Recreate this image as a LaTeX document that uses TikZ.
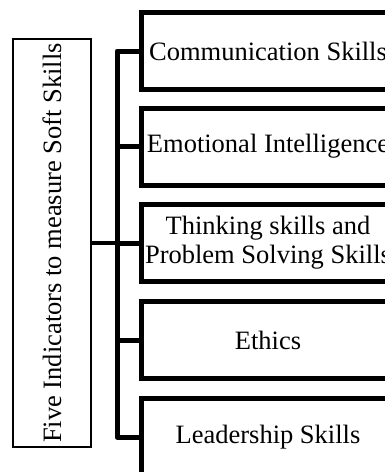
\documentclass[tikz,border=0pt]{standalone}
\usepackage{fontspec}
\setmainfont{Liberation Serif}
\begin{document}
\begin{tikzpicture}[x=1pt,y=-1pt,
  txt/.style={font=\fontsize{26.5}{29}\selectfont, align=center, inner sep=0pt},
  skillbox/.style={draw, line width=5pt, minimum width=254pt, minimum height=77pt, txt},
  mainbox/.style={draw, line width=1.3pt, minimum width=78pt, minimum height=408pt, inner sep=0pt},
  link/.style={line width=5pt, line join=round}]
\useasboundingbox (0,0) rectangle (385,472);
\clip (0,0) rectangle (385,472);
% root box with rotated title
\node[mainbox] (main) at (52,243) {};
\node[txt, rotate=90] (title) at (main.center) {Five Indicators to measure Soft Skills};
% the five indicators
\node[skillbox] (b1) at (268,51) {Communication Skills};
\node[skillbox] (b2) at (268,146.5) {Emotional Intelligence};
\node[skillbox] (b3) at (268,243) {Thinking skills and\\Problem Solving Skills};
\node[skillbox] (b4) at (268,340) {Ethics};
\node[skillbox] (b5) at (268,437) {Leadership Skills};
% bracket connectors
\coordinate (j) at (117,243);
\draw[line width=4pt] (main.east) -- (j);
\draw[link] (b1.west) -| (j) |- (b5.west);
\draw[link] (b2.west) -- (b2.west -| j);
\draw[link] (b3.west) -- (j);
\draw[link] (b4.west) -- (b4.west -| j);
\end{tikzpicture}
\end{document}
